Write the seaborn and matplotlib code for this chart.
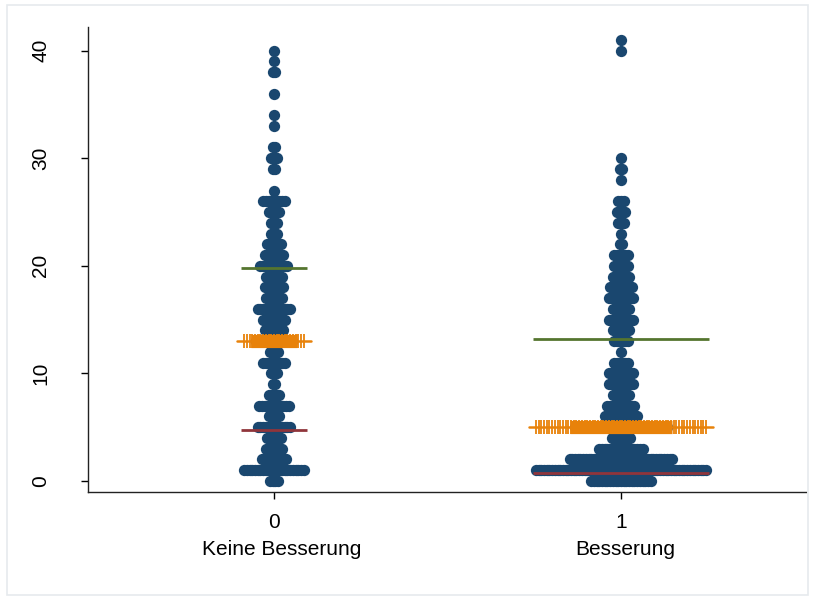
import numpy as np
import pandas as pd
import matplotlib
matplotlib.use("Agg")
import matplotlib.pyplot as plt
import matplotlib.transforms as mtransforms
from matplotlib.patches import Rectangle
import seaborn as sns

# Observed values (integer score) and how many observations sit at each value
groups = [0, 1]
group_names = ["Keine Besserung", "Besserung"]

values_g0 = [0, 1, 2, 3, 4, 5, 6, 7, 8, 9, 10, 11, 12, 13, 14, 15, 16, 17, 18, 19,
             20, 21, 22, 23, 24, 25, 26, 27, 29, 30, 31, 33, 34, 36, 38, 39, 40]
counts_g0 = [4, 23, 10, 7, 6, 13, 5, 12, 5, 2, 3, 9, 4, 14, 8, 9, 13, 7, 8, 7,
             11, 8, 6, 3, 3, 5, 9, 1, 2, 3, 2, 1, 1, 1, 2, 1, 1]

values_g1 = [0, 1, 2, 3, 4, 5, 6, 7, 8, 9, 10, 11, 12, 13, 14, 15, 16, 17, 18, 19,
             20, 21, 22, 23, 24, 25, 26, 28, 29, 30, 40, 41]
counts_g1 = [23, 64, 39, 17, 8, 35, 13, 11, 7, 10, 10, 6, 1, 6, 7, 10, 7, 10, 9, 7,
             6, 6, 2, 1, 3, 4, 3, 1, 2, 1, 1, 1]

# Summary lines per group: median, lower and upper quartile
median_vals = [13.0, 5.0]
lower_vals = [4.74, 0.77]
upper_vals = [19.84, 13.2]

# Styling
DOT_STEP = 0.00778          # horizontal spacing between stacked dots (data units)
NAVY = "#1a476f"
ORANGE = "#e8820a"
MAROON = "#90353b"
GREEN = "#55752f"
INK = "#000000"

sns.set_style("ticks")
plt.rcParams["font.family"] = ["Liberation Sans", "DejaVu Sans"]
plt.rcParams["text.color"] = INK
plt.rcParams["xtick.color"] = INK
plt.rcParams["ytick.color"] = INK

# Expand the counts into individual dots, centred on their group position
rows = []
for g, vals, cnts in [(0, values_g0, counts_g0), (1, values_g1, counts_g1)]:
    for v, n in zip(vals, cnts):
        for k in range(n):
            rows.append({"group": g, "value": v,
                         "xpos": g + (k - (n - 1) / 2) * DOT_STEP})
df = pd.DataFrame(rows)

fig = plt.figure(figsize=(8.16, 6.01), dpi=100)
ax = fig.add_axes([0.1078, 0.1814, 0.8799, 0.7737])

sns.scatterplot(data=df, x="xpos", y="value", ax=ax, color=NAVY, s=66,
                linewidth=0, legend=False, zorder=3)

for g, vals, cnts, med, lo, hi in [(0, values_g0, counts_g0, median_vals[0], lower_vals[0], upper_vals[0]),
                                   (1, values_g1, counts_g1, median_vals[1], lower_vals[1], upper_vals[1])]:
    nmax = max(cnts)
    half = (nmax - 1) / 2 * DOT_STEP + 0.009
    # quartile lines
    ax.plot([g - half, g + half], [hi, hi], color=GREEN, lw=2.0, zorder=4, solid_capstyle="butt")
    ax.plot([g - half, g + half], [lo, lo], color=MAROON, lw=2.0, zorder=4, solid_capstyle="butt")
    # median: row of plus markers across the group
    n_med = cnts[vals.index(int(med))]
    half_med = (n_med - 1) / 2 * DOT_STEP + 0.015
    half_full = half + 0.012
    ax.plot([g - half_full, g + half_full], [med, med], color=ORANGE, lw=1.8, zorder=5)
    ax.plot([g - half_med, g + half_med], [med, med], color=ORANGE, lw=9.5, zorder=5,
            solid_capstyle="butt")
    xs = np.arange(-(nmax - 1) / 2, (nmax - 1) / 2 + 1) * DOT_STEP + g
    ax.scatter(xs, np.full_like(xs, med), marker="|", s=95, color=ORANGE,
               linewidths=1.3, zorder=5)

ax.set_xlim(-0.536, 1.533)
ax.set_ylim(-1.02, 42.2)
ax.set_xticks(groups)
ax.set_xticklabels([str(g) for g in groups], fontsize=15)
ax.set_yticks([0, 10, 20, 30, 40])
ax.set_yticklabels(["0", "10", "20", "30", "40"], fontsize=15, rotation=90,
                   va="center")
ax.tick_params(axis="both", length=5, width=1, color=INK)
ax.tick_params(axis="y", pad=22)
ax.tick_params(axis="x", pad=10)
ax.set_xlabel("")
ax.set_ylabel("")
sns.despine(ax=ax)
for sp in ["left", "bottom"]:
    ax.spines[sp].set_color("#222222")
    ax.spines[sp].set_linewidth(1.0)

# value-label names on a second line under each tick
trans = mtransforms.blended_transform_factory(ax.transData, ax.transAxes)
name_shift = [8, 4]
for g, name, dx in zip(groups, group_names, name_shift):
    ax.annotate(name, xy=(g, 0), xycoords=trans, xytext=(dx * 0.72, -41.5),
                textcoords="offset points", ha="center", va="center",
                fontsize=15, color=INK)

# light frame around the graph region
fig.patches.append(Rectangle((7 / 816, 6 / 601), 801 / 816, 590 / 601,
                             transform=fig.transFigure, fill=False,
                             edgecolor="#e6eaed", linewidth=1.2))

fig.savefig("out.png", dpi=100, facecolor="white")
